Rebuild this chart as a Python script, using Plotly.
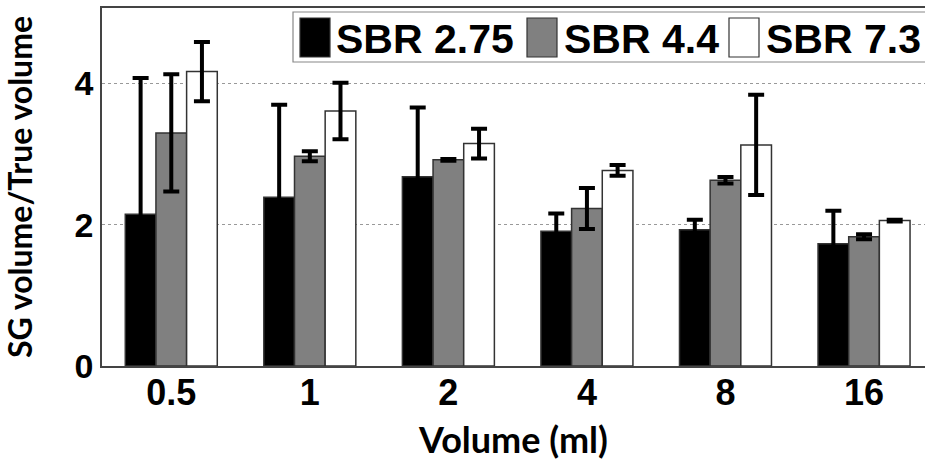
import plotly.graph_objects as go

# ---- data ----
categories = ["0.5", "1", "2", "4", "8", "16"]
series_names = ["SBR 2.75", "SBR 4.4", "SBR 7.3"]
sbr275 = [2.15, 2.39, 2.68, 1.91, 1.93, 1.73]
sbr275_err = [1.93, 1.31, 0.98, 0.25, 0.14, 0.47]
sbr44 = [3.30, 2.97, 2.92, 2.23, 2.63, 1.83]
sbr44_err = [0.83, 0.07, 0.012, 0.29, 0.045, 0.035]
sbr73 = [4.17, 3.61, 3.15, 2.77, 3.13, 2.06]
sbr73_err = [0.42, 0.40, 0.21, 0.075, 0.71, 0.012]
y_ticks = [0, 2, 4]
x_title = "Volume (ml)"
y_title = "SG volume/True volume"

values = [sbr275, sbr44, sbr73]
errors = [sbr275_err, sbr44_err, sbr73_err]
fills = ["#000000", "#808080", "#ffffff"]

W, H = 925, 461
ML, MR, MT, MB = 102, 0, 8, 95

fig = go.Figure()
for name, v, e, c in zip(series_names, values, errors, fills):
    fig.add_trace(go.Bar(
        x=categories, y=v, name=name, showlegend=False,
        marker=dict(color=c, line=dict(color="#333333", width=1.5)),
        error_y=dict(type="data", array=e, visible=True, color="#000000",
                     thickness=4, width=8),
    ))

fig.update_layout(
    width=W, height=H,
    margin=dict(l=ML, r=MR, t=MT, b=MB, autoexpand=False),
    barmode="group", bargap=0.336, bargroupgap=0,
    plot_bgcolor="white", paper_bgcolor="white",
    font=dict(family="Liberation Sans, Arial, sans-serif", color="#000000"),
)
fig.update_xaxes(
    type="category", range=[-0.5, 5.44],
    showline=True, linecolor="#444444", linewidth=2, mirror=True,
    ticks="outside", ticklen=0, showgrid=False, ticklabelstandoff=-6,
    tickfont=dict(size=36, weight="bold", family="Liberation Sans, Arial"),
    title=dict(text=x_title, standoff=16,
               font=dict(size=36, weight="bold", family="Lato, Open Sans, sans-serif")),
)
fig.update_yaxes(
    range=[0, 5.07], tickvals=y_ticks, ticktext=[str(t) for t in y_ticks],
    showline=True, linecolor="#444444", linewidth=1.5,
    ticks="outside", ticklen=0,
    showgrid=True, gridcolor="#999999", gridwidth=1, griddash="dot",
    zeroline=False,
    tickfont=dict(size=34, weight="bold", family="Liberation Sans, Arial"),
    title=dict(text=y_title, standoff=32,
               font=dict(size=32, weight="bold", family="Lato, Open Sans, sans-serif")),
)

# ---- manual legend (large swatches as in the reference) ----
pw, ph = W - ML - MR, H - MT - MB
def px(x):
    return (x - ML) / pw
def py(y):
    return (H - MB - y) / ph

fig.add_shape(type="rect", xref="paper", yref="paper",
              x0=px(293), x1=px(935), y0=py(62), y1=py(12),
              fillcolor="white", line=dict(color="#888888", width=1.2), layer="above")
swatch_x = [300, 527, 729]
text_x = [334, 562, 764]
for name, c, sx, tx in zip(series_names, fills, swatch_x, text_x):
    fig.add_shape(type="rect", xref="paper", yref="paper",
                  x0=px(sx), x1=px(sx + 30), y0=py(57), y1=py(18),
                  fillcolor=c, line=dict(color="#333333", width=1.2), layer="above")
    fig.add_annotation(xref="paper", yref="paper", x=px(tx), y=py(39),
                       xanchor="left", yanchor="middle", showarrow=False,
                       text=name,
                       font=dict(size=41, weight="bold", family="Liberation Sans, Arial"))

fig.write_html("out.html")
